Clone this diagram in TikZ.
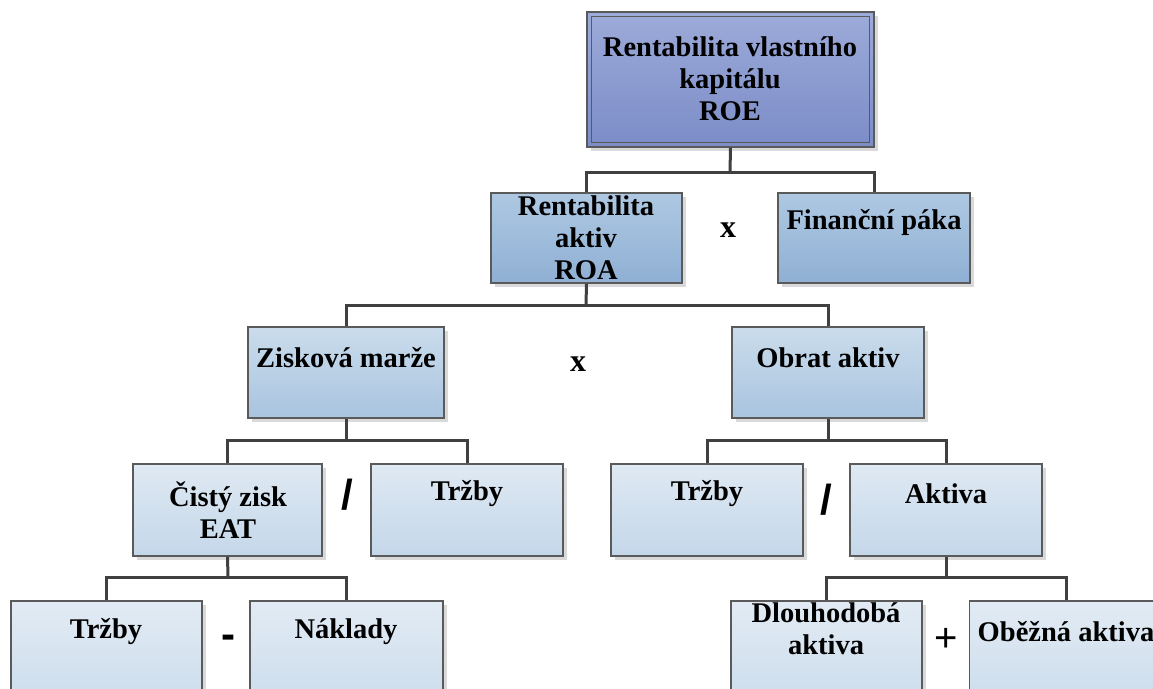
\documentclass[tikz,border=0pt]{standalone}
\usepackage{fontspec}
\setmainfont{Liberation Serif}
\newfontfamily\opfont{Liberation Sans}
\usetikzlibrary{calc}
\definecolor{edgegray}{HTML}{5A5A5A}
\definecolor{conngray}{HTML}{404040}
\definecolor{shadowgray}{HTML}{D9D9D9}
\definecolor{roeT}{HTML}{9DABD9}
\definecolor{roeB}{HTML}{7B8CC7}
\definecolor{lvTwoT}{HTML}{AEC8E2}
\definecolor{lvTwoB}{HTML}{8FB0D4}
\definecolor{lvThreeT}{HTML}{CADCEC}
\definecolor{lvThreeB}{HTML}{A9C4DF}
\definecolor{lvFourT}{HTML}{DFE9F3}
\definecolor{lvFourB}{HTML}{C4D7E9}
\definecolor{lvFiveT}{HTML}{E2EBF4}
\definecolor{lvFiveB}{HTML}{CCDDEC}
\tikzset{
  boxbase/.style={draw=edgegray, line width=1.3pt, inner sep=0pt,
    minimum width=192pt, minimum height=91pt,
    preaction={draw=none, fill=shadowgray, transform canvas={shift={(4pt,-4pt)}}}},
  roebox/.style={boxbase, top color=roeT, bottom color=roeB},
  lvtwo/.style={boxbase, top color=lvTwoT, bottom color=lvTwoB},
  lvthree/.style={boxbase, top color=lvThreeT, bottom color=lvThreeB},
  lvfour/.style={boxbase, top color=lvFourT, bottom color=lvFourB},
  lvfive/.style={boxbase, top color=lvFiveT, bottom color=lvFiveB},
  lbl/.style={align=center, font=\fontsize{28.5}{32}\selectfont\bfseries, inner sep=0pt},
  conn/.style={draw=conngray, line width=3pt},
  opx/.style={font=\fontsize{32}{34}\selectfont\bfseries, inner sep=0pt},
  opsans/.style={font=\opfont\bfseries\fontsize{42}{44}\selectfont, inner sep=0pt},
  opplus/.style={font=\opfont\fontsize{40}{42}\selectfont, inner sep=0pt},
}
\begin{document}
\begin{tikzpicture}[x=1pt,y=-1pt]
\useasboundingbox (0,0) rectangle (1153,688);
\clip (0,0) rectangle (1153,688);
\fill[white] (0,0) rectangle (1153,688);

\coordinate (b1) at (730,172);
\coordinate (b2) at (586,305);
\coordinate (b3) at (346,440);
\coordinate (b4) at (828,440);
\coordinate (b5) at (228,577);
\coordinate (b6) at (946,577);

% boxes
\node[roebox, minimum width=287pt, minimum height=135pt] (roe) at (730.5,79.5) {};
\draw[edgegray, line width=1.1pt] ([shift={(5pt,-5pt)}]roe.north west) rectangle ([shift={(-5pt,5pt)}]roe.south east);

\node[lvtwo, minimum width=191pt, minimum height=90pt] (roa) at (586.5,238) {};
\node[lvtwo, minimum width=192pt, minimum height=90pt] (fin) at (874,238) {};

\node[lvthree, minimum width=196pt] (zm) at (346,372.5) {};
\node[lvthree] (oa) at (828,372.5) {};

\node[lvfour, minimum width=189pt, minimum height=92pt] (cz) at (227.5,510) {};
\node[lvfour, minimum height=92pt] (trA) at (467,510) {};
\node[lvfour, minimum height=92pt] (trB) at (707,510) {};
\node[lvfour, minimum height=92pt] (akt) at (946,510) {};

\node[lvfive, minimum width=191pt, minimum height=100pt] (trC) at (106.5,651) {};
\node[lvfive, minimum width=193pt, minimum height=100pt] (nak) at (346.5,651) {};
\node[lvfive, minimum width=191pt, minimum height=100pt] (dl) at (826.5,651) {};
\node[lvfive, minimum width=193pt, minimum height=100pt] (ob) at (1066,651) {};

% connectors
\draw[conn] (roe.south) -- (b1);
\draw[conn] (b1) -| (roa.north);
\draw[conn] (b1) -| (fin.north);
\draw[conn] (roa.south) -- (b2);
\draw[conn] (b2) -| (zm.north);
\draw[conn] (b2) -| (oa.north);
\draw[conn] (zm.south) -- (b3);
\draw[conn] (b3) -| (cz.north);
\draw[conn] (b3) -| (trA.north);
\draw[conn] (oa.south) -- (b4);
\draw[conn] (b4) -| (trB.north);
\draw[conn] (b4) -| (akt.north);
\draw[conn] (cz.south) -- (b5);
\draw[conn] (b5) -| (trC.north);
\draw[conn] (b5) -| (nak.north);
\draw[conn] (akt.south) -- (b6);
\draw[conn] (b6) -| (dl.north);
\draw[conn] (b6) -| (ob.north);

% labels
\node[lbl] (troe) at (730,79) {Rentabilita vlastního\\kapitálu\\ROE};
\node[lbl] (troa) at (586,237.5) {Rentabilita\\aktiv\\ROA};
\node[lbl] (tfin) at (874,222) {Finanční páka};
\node[lbl] (tzm) at (346,358) {Zisková marže};
\node[lbl] (toa) at (828,358) {Obrat aktiv};
\node[lbl] (tcz) at (228,510.5) {Čistý zisk\\EAT};
\node[lbl] (ttrA) at (467,494) {Tržby};
\node[lbl] (ttrB) at (707,494) {Tržby};
\node[lbl] (takt) at (946,494) {Aktiva};
\node[lbl] (ttrC) at (106,632) {Tržby};
\node[lbl] (tnak) at (346,632) {Náklady};
\node[lbl] (tdl) at (826,629) {Dlouhodobá\\aktiva};
\node[lbl] (tob) at (1066,632) {Oběžná aktiva};

% operators
\node[opx] (opA) at (728,230) {x};
\node[opx] (opB) at (578,364) {x};
\node[opsans] (opC) at (347,495) {/};
\node[opsans] (opD) at (826,500) {/};
\node[opsans] (opE) at (228,642) {-};
\node[opplus] (opF) at (946,640) {+};
\end{tikzpicture}
\end{document}
